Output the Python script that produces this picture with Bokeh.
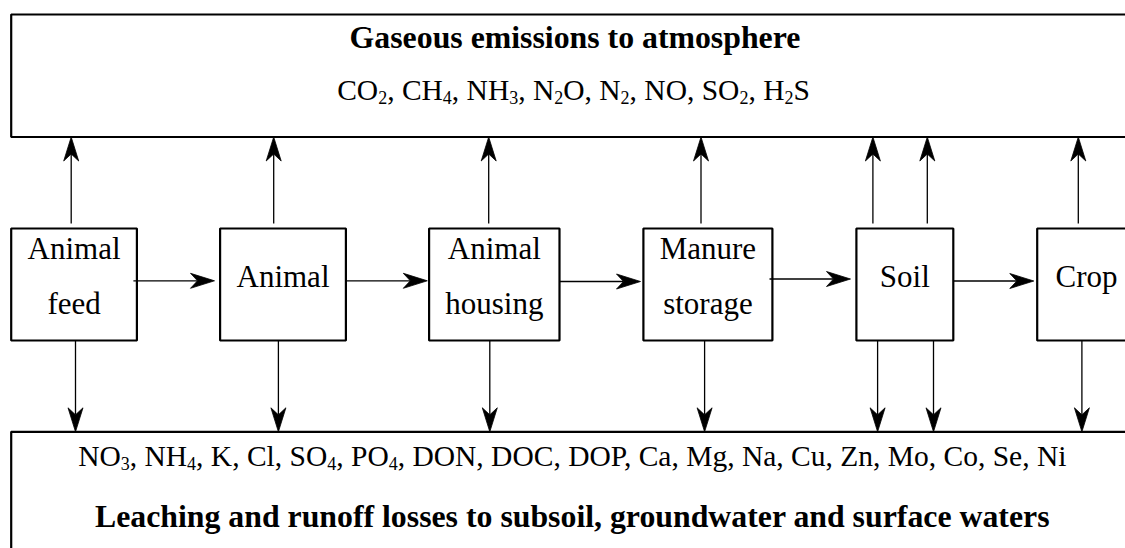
import numpy as np
from bokeh.plotting import figure
from bokeh.models import Range1d
from bokeh.core.properties import value
from bokeh.embed import file_html
from bokeh.resources import INLINE

# ---------------- data ----------------
box_lines = [["Animal", "feed"], ["Animal"], ["Animal", "housing"],
             ["Manure", "storage"], ["Soil"], ["Crop"]]
box_left = [10.7, 219.6, 428.6, 642.9, 855.9, 1036.7]
box_right = [136.4, 345.4, 559.0, 771.9, 952.8, 1135.3]
box_top = 228.0
box_bottom = 340.0

top_box = dict(left=10.7, right=1136.0, top=14.0, bottom=136.5)
bottom_box = dict(left=10.7, right=1136.0, top=431.3, bottom=600.0)

title_top = "Gaseous emissions to atmosphere"
gases = "CO\u2082, CH\u2084, NH\u2083, N\u2082O, N\u2082, NO, SO\u2082, H\u2082S"
solutes = ("NO\u2083, NH\u2084, K, Cl, SO\u2084, PO\u2084, DON, DOC, DOP, Ca, Mg, Na, "
           "Cu, Zn, Mo, Co, Se, Ni")
title_bottom = "Leaching and runoff losses to subsoil, groundwater and surface waters"

up_arrow_x = [70.7, 273.2, 488.2, 700.5, 872.4, 926.8, 1077.8]
down_arrow_x = [75.0, 277.9, 489.3, 704.1, 877.1, 933.0, 1081.4]
flow_start_x = [132.9, 345.4, 559.0, 769.0, 953.3]
flow_end_x = [214.0, 426.8, 640.0, 850.0, 1033.3]
flow_y = [280.3, 280.3, 281.0, 278.5, 280.5]

FONT = "Liberation Serif"
LABEL_PX = 31.0
LIST_PX = 29.5
SUB_PX = 18.0
SUB_DROP = 8.0
BOLD_PX = 31.8

# Times / Liberation Serif regular advance widths (per 1000 em)
W = {' ': 250, ',': 250, 'A': 722, 'B': 667, 'C': 667, 'D': 722, 'E': 611, 'F': 556,
     'G': 722, 'H': 722, 'I': 333, 'K': 722, 'L': 611, 'M': 889, 'N': 722, 'O': 722,
     'P': 556, 'S': 556, 'T': 611, 'Z': 611, 'a': 444, 'c': 444, 'e': 444, 'g': 500,
     'i': 278, 'l': 278, 'n': 500, 'o': 500, 'u': 500}
SUBS = {'\u2080': '0', '\u2081': '1', '\u2082': '2', '\u2083': '3', '\u2084': '4'}

p = figure(width=1125, height=548, output_backend="svg", toolbar_location=None,
           x_range=Range1d(0, 1125), y_range=Range1d(548, 0),
           min_border=0, outline_line_color=None, background_fill_color="white",
           border_fill_color="white")
p.axis.visible = False
p.grid.visible = False

# big boxes
for b in (top_box, bottom_box):
    p.quad(left=[b["left"]], right=[b["right"]], top=[b["top"]], bottom=[b["bottom"]],
           fill_color=None, line_color="black", line_width=2.2)

# process boxes
p.quad(left=box_left, right=box_right, top=[box_top] * len(box_left),
       bottom=[box_bottom] * len(box_left), fill_color="white",
       line_color="black", line_width=2.2)

# arrows
def arrow(xs, ys, xe, ye, L=24.0, Wd=7.5, N=17.0):
    d = np.array([xe - xs, ye - ys], dtype=float)
    d /= np.hypot(*d)
    n = np.array([-d[1], d[0]])
    e = np.array([xe, ye])
    w1 = e - L * d + Wd * n
    nt = e - N * d
    w2 = e - L * d - Wd * n
    return [xs, nt[0]], [ys, nt[1]], [e[0], w1[0], nt[0], w2[0]], [e[1], w1[1], nt[1], w2[1]]

specs = []
for x in up_arrow_x:
    specs.append((x, box_top - 5, x, top_box["bottom"]))
for x in down_arrow_x:
    specs.append((x, box_bottom, x, bottom_box["top"]))
for xs, xe, y in zip(flow_start_x, flow_end_x, flow_y):
    specs.append((xs, y, xe, y))
shafts_x, shafts_y, heads_x, heads_y = [], [], [], []
for s in specs:
    a, b, c, d = arrow(*s)
    shafts_x.append(a); shafts_y.append(b); heads_x.append(c); heads_y.append(d)

p.multi_line(xs=shafts_x, ys=shafts_y, line_color="black", line_width=1.3)
p.patches(xs=heads_x, ys=heads_y, fill_color="black", line_color="black", line_width=0.8)

# box labels
tx, ty, tt = [], [], []
for lines, l, r in zip(box_lines, box_left, box_right):
    cx = (l + r) / 2
    if len(lines) == 2:
        tx += [cx, cx]; ty += [248.0, 303.0]; tt += lines
    else:
        tx.append(cx); ty.append(275.5); tt.append(lines[0])
p.text(x=tx, y=ty, text=tt, text_font=value(FONT), text_font_size=value(f"{LABEL_PX}px"),
       text_align="center", text_baseline="alphabetic", text_color="black")


# chemical lists with real subscripts
def rich_line(s, cx, base):
    segs = []
    for ch in s:
        sub = ch in SUBS
        c = SUBS.get(ch, ch)
        if segs and segs[-1][1] == sub:
            segs[-1][0] += c
        else:
            segs.append([c, sub])
    widths = [sum(W.get(c, 500) for c in t) / 1000.0 * (SUB_PX if sub else LIST_PX)
              for t, sub in segs]
    x = cx - sum(widths) / 2.0
    mx, my, mt, sx, sy, st = [], [], [], [], [], []
    for (t, sub), w in zip(segs, widths):
        if sub:
            sx.append(x); sy.append(base + SUB_DROP); st.append(t)
        else:
            mx.append(x); my.append(base); mt.append(t)
        x += w
    p.text(x=mx, y=my, text=mt, text_font=value(FONT), text_font_size=value(f"{LIST_PX}px"),
           text_align="left", text_baseline="alphabetic", text_color="black")
    p.text(x=sx, y=sy, text=st, text_font=value(FONT), text_font_size=value(f"{SUB_PX}px"),
           text_align="left", text_baseline="alphabetic", text_color="black")


rich_line(gases, 573.0, 89.0)
rich_line(solutes, 573.4, 455.0)

p.text(x=[574.5], y=[36.7], text=[title_top], text_font=value(FONT),
       text_font_size=value(f"{BOLD_PX}px"), text_font_style="bold",
       text_align="center", text_baseline="alphabetic", text_color="black")
p.text(x=[572.0], y=[516.0], text=[title_bottom], text_font=value(FONT),
       text_font_size=value(f"{BOLD_PX}px"), text_font_style="bold",
       text_align="center", text_baseline="alphabetic", text_color="black")

open("out.html", "w").write(file_html(p, INLINE))
